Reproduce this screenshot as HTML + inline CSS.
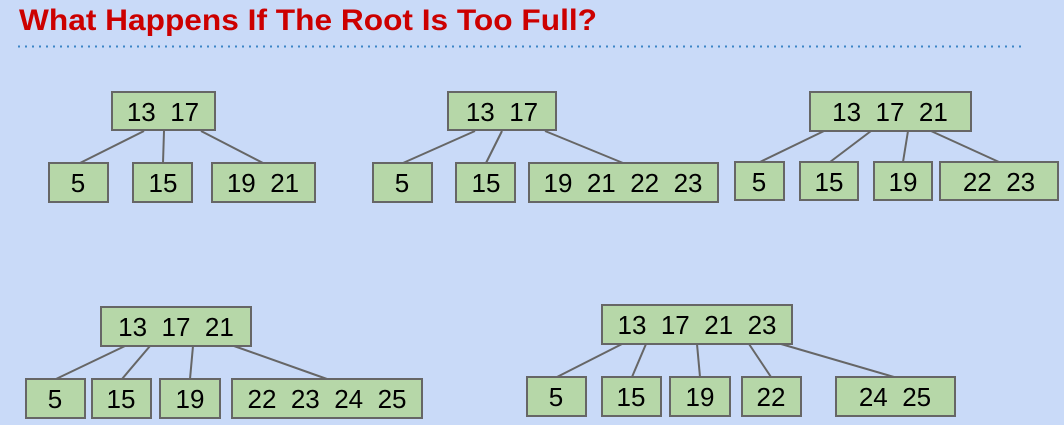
<!DOCTYPE html>
<html><head><meta charset="utf-8"><style>
html,body{margin:0;padding:0;background:#c9daf8;}
svg{display:block}
svg text{white-space:pre}
</style></head><body>
<svg width="1064" height="425" viewBox="0 0 1064 425" xmlns="http://www.w3.org/2000/svg">
<rect width="1064" height="425" fill="#c9daf8"/>
<text x="19" y="30" font-family="Liberation Sans, sans-serif" font-weight="bold" font-size="30" fill="#cc0000" textLength="578" lengthAdjust="spacingAndGlyphs">What Happens If The Root Is Too Full?</text>
<line x1="18" y1="46.5" x2="1025" y2="46.5" stroke="#3d85c6" stroke-width="2" stroke-dasharray="2,5"/>
<g stroke="#666" stroke-width="2" fill="none">
<line x1="144" y1="131" x2="80" y2="163"/><line x1="164" y1="131" x2="163" y2="163"/><line x1="201" y1="131" x2="263" y2="163"/>
<line x1="475" y1="131" x2="403" y2="163"/><line x1="502" y1="131" x2="486" y2="163"/><line x1="545" y1="131" x2="623" y2="163"/>
<line x1="824" y1="131" x2="760" y2="162"/><line x1="871" y1="131" x2="830" y2="162"/><line x1="908" y1="131" x2="903" y2="162"/><line x1="931" y1="131" x2="999" y2="162"/>
<line x1="125" y1="346" x2="56" y2="379"/><line x1="150" y1="346" x2="122" y2="379"/><line x1="193" y1="346" x2="190" y2="379"/><line x1="234" y1="346" x2="327" y2="379"/>
<line x1="622" y1="344" x2="557" y2="377"/><line x1="646" y1="344" x2="632" y2="377"/><line x1="697" y1="344" x2="700" y2="377"/><line x1="749" y1="344" x2="771" y2="377"/><line x1="781" y1="344" x2="894" y2="377"/>
</g>
<g fill="#b6d7a8" stroke="#666" stroke-width="2">
<rect x="112" y="92" width="103" height="38"/>
<rect x="49" y="163" width="59" height="39"/><rect x="133" y="163" width="59" height="39"/><rect x="212" y="163" width="103" height="39"/>
<rect x="448" y="92" width="108" height="38"/>
<rect x="373" y="163" width="59" height="39"/><rect x="456" y="163" width="59" height="39"/><rect x="529" y="163" width="189" height="39"/>
<rect x="810" y="92" width="161" height="39"/>
<rect x="735" y="162" width="49" height="38"/><rect x="800" y="162" width="58" height="38"/><rect x="874" y="162" width="58" height="38"/><rect x="940" y="162" width="118" height="38"/>
<rect x="101" y="307" width="150" height="39"/>
<rect x="26" y="379" width="59" height="39"/><rect x="92" y="379" width="59" height="39"/><rect x="160" y="379" width="60" height="39"/><rect x="232" y="379" width="190" height="39"/>
<rect x="602" y="305" width="190" height="39"/>
<rect x="527" y="377" width="59" height="39"/><rect x="602" y="377" width="59" height="39"/><rect x="670" y="377" width="60" height="39"/><rect x="742" y="377" width="59" height="39"/><rect x="836" y="377" width="119" height="39"/>
</g>
<g font-family="Liberation Sans, sans-serif" font-size="26" fill="#000" text-anchor="middle">
<text x="163" y="121">13  17</text>
<text x="78" y="192">5</text><text x="163" y="192">15</text><text x="263" y="192">19  21</text>
<text x="502" y="121">13  17</text>
<text x="402" y="192">5</text><text x="486" y="192">15</text><text x="623" y="192">19  21  22  23</text>
<text x="890" y="121">13  17  21</text>
<text x="759" y="191">5</text><text x="829" y="191">15</text><text x="903" y="191">19</text><text x="999" y="191">22  23</text>
<text x="176" y="336">13  17  21</text>
<text x="55" y="408">5</text><text x="121" y="408">15</text><text x="190" y="408">19</text><text x="327" y="408">22  23  24  25</text>
<text x="697" y="334">13  17  21  23</text>
<text x="556" y="406">5</text><text x="631" y="406">15</text><text x="700" y="406">19</text><text x="771" y="406">22</text><text x="895" y="406">24  25</text>
</g>
</svg>
</body></html>
